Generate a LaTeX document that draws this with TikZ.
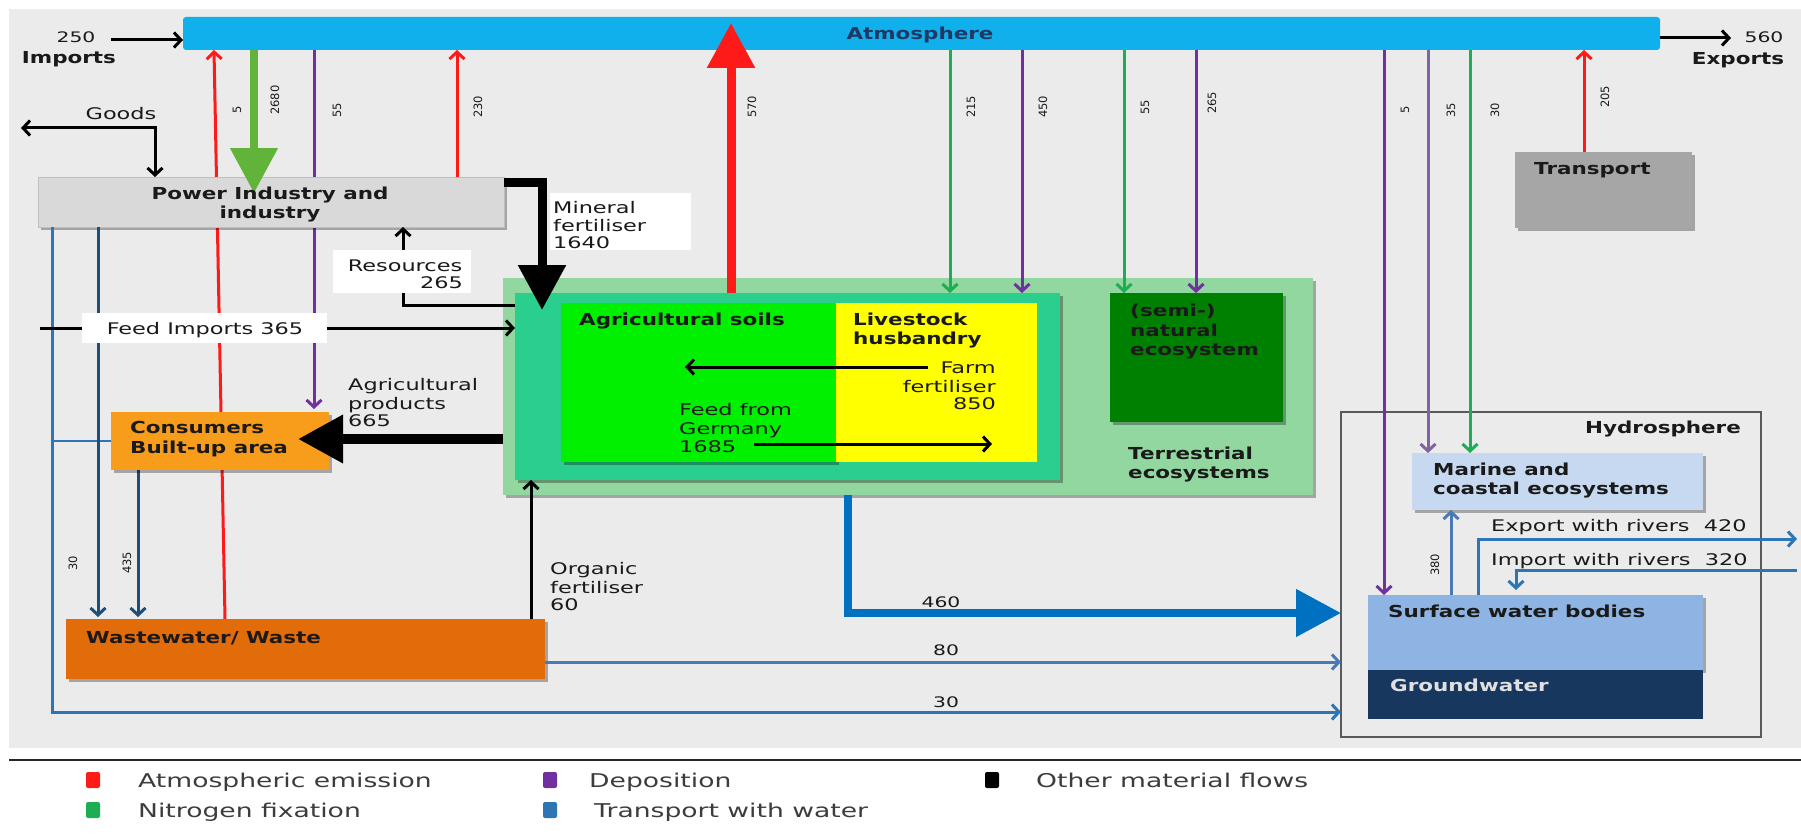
\documentclass[tikz,border=0pt]{standalone}
\usepackage{fontspec}
\setmainfont{DejaVu Sans}
\newfontfamily\bfnt[FakeStretch=1.3]{DejaVu Sans}
\newfontfamily\rfnt[FakeStretch=1.4]{DejaVu Sans}
\newfontfamily\nfnt{DejaVu Sans}
\usetikzlibrary{arrows.meta,shadows,calc}
\newcommand\fbold{\bfnt\bfseries\fontsize{16.5}{19}\selectfont}
\newcommand\freg{\rfnt\fontsize{16}{18}\selectfont}
\newcommand\fnum{\rfnt\fontsize{14.5}{17}\selectfont}
\newcommand\fleg{\rfnt\fontsize{19}{22}\selectfont}
\newcommand\frot{\nfnt\fontsize{11.5}{13}\selectfont}
\definecolor{bg}{HTML}{EBEBEB}
\definecolor{atm}{HTML}{0FB0EC}
\definecolor{atmtxt}{HTML}{1F3864}
\definecolor{emi}{HTML}{FF1A1A}
\definecolor{fixg}{HTML}{1DAE55}
\definecolor{fixbig}{HTML}{62B33A}
\definecolor{dep}{HTML}{7030A0}
\definecolor{deplt}{HTML}{8064A2}
\definecolor{wat}{HTML}{0070C0}
\definecolor{watm}{HTML}{2E75B6}
\definecolor{watd}{HTML}{1F4E79}
\definecolor{wats}{HTML}{4A7AB5}
\definecolor{powf}{HTML}{D9D9D9}
\definecolor{trf}{HTML}{A6A6A6}
\definecolor{conf}{HTML}{F89C1C}
\definecolor{wwf}{HTML}{E36C0A}
\definecolor{terf}{HTML}{92D6A0}
\definecolor{tealf}{HTML}{2ACF8E}
\definecolor{soilf}{HTML}{00F000}
\definecolor{livf}{HTML}{FFFF00}
\definecolor{natf}{HTML}{008000}
\definecolor{marf}{HTML}{C6D9F1}
\definecolor{surf}{HTML}{8DB4E2}
\definecolor{grdf}{HTML}{17375E}
\definecolor{txt}{HTML}{1A1A1A}
\begin{document}
\begin{tikzpicture}[x=1pt,y=-1pt,
  box/.style={anchor=north west, inner sep=0pt, outer sep=0pt},
  shd/.style={drop shadow={shadow xshift=2.5pt, shadow yshift=-2.5pt, opacity=0.3, fill=black}},
  thin/.style={line width=3pt, -{Straight Barb[length=7pt,width=15pt]}},
  big/.style={-{Triangle[length=45pt,width=46pt]}},
  bl/.style={font=\fbold, text=txt, inner sep=0pt},
  rl/.style={font=\freg, text=txt, inner sep=0pt},
  nl/.style={font=\fnum, text=txt, inner sep=0pt},
  ll/.style={font=\fleg, text=txt!85, inner sep=0pt, anchor=base west},
  rot/.style={font=\frot, text=txt, inner sep=0pt, rotate=90},
  lsq/.style={minimum width=14pt, minimum height=16pt, inner sep=0pt, rounded corners=2pt}]
\useasboundingbox (0,0) rectangle (1801,840);
\fill[white] (0,0) rectangle (1801,840);
\fill[bg] (9,9) rectangle (1801,748);
\draw[line width=2.5pt, black!85] (9,760) -- (1801,760);

% ---------- legend ----------
\node[lsq, fill=emi] (lg1) at (93,780) {};
\node[ll] (lt1) at (138,787) {Atmospheric emission};
\node[lsq, fill=fixg] (lg2) at (93,810) {};
\node[ll] (lt2) at (138,817) {Nitrogen fixation};
\node[lsq, fill=dep] (lg3) at (550,780) {};
\node[ll] (lt3) at (589,787) {Deposition};
\node[lsq, fill=watm] (lg4) at (550,810) {};
\node[ll] (lt4) at (594,817) {Transport with water};
\node[lsq, fill=black] (lg5) at (992,780) {};
\node[ll] (lt5) at (1036,787) {Other material flows};

% ---------- atmosphere, hydrosphere, transport ----------
\node[box, fill=atm, rounded corners=3pt, minimum width=1477pt, minimum height=33pt] (atm) at (183,17) {};
\node[box, shd, fill=trf, minimum width=177pt, minimum height=76pt] (tr) at (1515,152) {};
\node[box, draw=black!65, line width=1.5pt, minimum width=420pt, minimum height=325pt] (hyd) at (1341,412) {};
\coordinate (powNW) at (38,177);
\coordinate (powSE) at (504,227);

% ---------- lines behind boxes ----------
\draw[emi, thin] (225,619) -- (atm.south -| 214,0);
\draw[dep, thin] (atm.south -| 314,0) -- (314,409);

\node[box, shd, fill=powf, draw=black!25, minimum width=466pt, minimum height=50pt] (pow) at (powNW) {};

\draw[watm, line width=3pt, -{Straight Barb[length=7pt,width=15pt]}] (pow.south -| 52,0) -- (52,712) -- (hyd.west |- 0,712);
\draw[watm, line width=2.5pt] (52,441) -- (111,441);
\draw[watd, thin] (pow.south -| 98,0) -- (98,617);
\draw[watd, thin] (138,470) -- (138,617);
\draw[emi, thin] (pow.north -| 457,0) -- (atm.south -| 457,0);
\draw[emi, thin] (tr.north -| 1584,0) -- (atm.south -| 1584,0);

\node[box, shd, fill=conf, minimum width=218pt, minimum height=58pt] (con) at (111,412) {};
\node[box, shd, fill=wwf, minimum width=479pt, minimum height=60pt] (ww) at (66,619) {};

\node[box, shd, fill=terf, minimum width=810pt, minimum height=217pt] (ter) at (503,278) {};
\node[box, shd, fill=tealf, minimum width=545pt, minimum height=187pt] (teal) at (515,293) {};
\node[box, shd, fill=soilf, minimum width=275pt, minimum height=159pt] (soil) at (561,303) {};
\node[box, fill=livf, minimum width=201pt, minimum height=159pt] (liv) at (836,303) {};
\node[box, shd, fill=natf, minimum width=173pt, minimum height=129pt] (nat) at (1110,293) {};

\node[box, shd, fill=marf, minimum width=291pt, minimum height=57pt] (mar) at (1412,453) {};
\node[box, shd, fill=surf, minimum width=335pt, minimum height=75pt] (sur) at (1368,595) {};
\node[box, fill=grdf, minimum width=335pt, minimum height=49pt] (grd) at (1368,670) {};

% ---------- flows ----------
\coordinate (impS) at (111,40);
\draw[black, thin] (impS) -- (impS -| atm.west);
\coordinate (expE) at (1731,38);
\draw[black, thin] (expE -| atm.east) -- (expE);
\coordinate (goodsL) at (21,128);
\draw[black, line width=3pt, {Straight Barb[length=7pt,width=15pt]}-{Straight Barb[length=7pt,width=15pt]}] (goodsL) -- (155,128) -- (pow.north -| 155,0);
\draw[black, thin] (teal.west |- 0,305) -- (403,305) -- (pow.south -| 403,0);
\coordinate (feedS) at (40,328);
\draw[black, thin] (feedS) -- (feedS -| teal.west);
\node[box, fill=white, minimum width=138pt, minimum height=43pt] (resb) at (333,250) {};
\node[box, fill=white, minimum width=141pt, minimum height=57pt] (minb) at (550,193) {};
\node[box, fill=white, minimum width=245pt, minimum height=30pt] (feedb) at (82,313) {};

\draw[black, line width=9pt, big] (pow.east |- 0,182) -- (542,182) -- ($(teal.north -| 542,0)+(0,17)$);
\draw[black, line width=10pt, big] (ter.west |- 0,439) -- ($(con.east |- 0,439)+(-31,0)$);
\draw[black, thin] (ww.north -| 531,0) -- (teal.south -| 531,0);
\draw[fixbig, line width=8pt, big] (atm.south -| 254,0) -- ($(pow.north -| 254,0)+(0,16)$);
\draw[emi, line width=9pt, big] (teal.north -| 731,0) -- ($(atm.north -| 731,0)+(0,6)$);
\draw[fixg, thin] (atm.south -| 950,0) -- (teal.north -| 950,0);
\draw[dep, thin] (atm.south -| 1022,0) -- (teal.north -| 1022,0);
\draw[fixg, thin] (atm.south -| 1124,0) -- (nat.north -| 1124,0);
\draw[dep, thin] (atm.south -| 1196,0) -- (nat.north -| 1196,0);
\draw[dep, thin] (atm.south -| 1384,0) -- (sur.north -| 1384,0);
\draw[deplt, thin] (atm.south -| 1428,0) -- (mar.north -| 1428,0);
\draw[fixg, thin] (atm.south -| 1470,0) -- (mar.north -| 1470,0);
\coordinate (ffS) at (928,367); \coordinate (ffE) at (685,367);
\draw[black, thin] (ffS) -- (ffE);
\coordinate (fgS) at (754,444); \coordinate (fgE) at (992,444);
\draw[black, thin] (fgS) -- (fgE);
\draw[wat, line width=8pt, big] (ter.south -| 848,0) -- (848,613) -- (hyd.west |- 0,613);
\draw[wats, thin] (ww.east |- 0,662) -- (hyd.west |- 0,662);
\draw[wats, thin] (sur.north -| 1451,0) -- (mar.south -| 1451,0);
\coordinate (expR) at (1797,539);
\draw[watm, thin] (sur.north -| 1478,0) -- (1478,539) -- (expR);
\coordinate (impR) at (1797,570);
\draw[watm, thin] (impR) -- (1516,570) -- ($(sur.north -| 1516,0)+(0,-5)$);

% ---------- box texts ----------
\node[bl, text=atmtxt, anchor=base] (atmT) at (920,40) {Atmosphere};
\node[bl, anchor=base] (impT) at (69,64) {Imports};
\node[bl, anchor=base] (expT) at (1738,65) {Exports};
\node[bl, anchor=base] (powT1) at (270,199) {Power Industry and};
\node[bl, anchor=base] (powT2) at (270,218) {industry};
\node[bl, anchor=base west] (trT) at (1534,174) {Transport};
\node[bl, anchor=base west] (conT1) at (130,433) {Consumers};
\node[bl, anchor=base west] (conT2) at (130,453) {Built-up area};
\node[bl, anchor=base west] (wwT) at (86,643) {Wastewater/ Waste};
\node[bl, anchor=base west] (soilT) at (579,325) {Agricultural soils};
\node[bl, anchor=base west] (livT1) at (853,325) {Livestock};
\node[bl, anchor=base west] (livT2) at (853,344) {husbandry};
\node[bl, anchor=base west] (natT1) at (1130,316) {(semi-)};
\node[bl, anchor=base west] (natT2) at (1130,336) {natural};
\node[bl, anchor=base west] (natT3) at (1130,355) {ecosystem};
\node[bl, anchor=base west] (terT1) at (1128,459) {Terrestrial};
\node[bl, anchor=base west] (terT2) at (1128,478) {ecosystems};
\node[bl, anchor=base east] (hydT) at (1741,433) {Hydrosphere};
\node[bl, anchor=base west] (marT1) at (1433,475) {Marine and};
\node[bl, anchor=base west] (marT2) at (1433,494) {coastal ecosystems};
\node[bl, anchor=base west] (surT) at (1388,617) {Surface water bodies};
\node[bl, anchor=base west, text=black!12] (grdT) at (1390,691) {Groundwater};

% ---------- flow labels ----------
\node[rl, anchor=base] (goodsT) at (121,120) {Goods};
\node[rl, anchor=base west] (minT1) at (553,213) {Mineral};
\node[rl, anchor=base west] (minT2) at (553,231) {fertiliser};
\node[rl, anchor=base west] (minT3) at (553,248) {1640};
\node[rl, anchor=base] (resT1) at (405,271) {Resources};
\node[rl, anchor=base east] (resT2) at (463,288) {265};
\node[rl, anchor=base] (feedT) at (205,334) {Feed Imports 365};
\node[rl, anchor=base west] (agpT1) at (348,390) {Agricultural};
\node[rl, anchor=base west] (agpT2) at (348,409) {products};
\node[rl, anchor=base west] (agpT3) at (348,426) {665};
\node[rl, anchor=base east] (ffT1) at (996,373) {Farm};
\node[rl, anchor=base east] (ffT2) at (996,392) {fertiliser};
\node[rl, anchor=base east] (ffT3) at (996,409) {850};
\node[rl, anchor=base west] (fgT1) at (679,415) {Feed from};
\node[rl, anchor=base west] (fgT2) at (679,434) {Germany};
\node[rl, anchor=base west] (fgT3) at (679,452) {1685};
\node[rl, anchor=base west] (orgT1) at (550,574) {Organic};
\node[rl, anchor=base west] (orgT2) at (550,593) {fertiliser};
\node[rl, anchor=base west] (orgT3) at (550,610) {60};
\node[rl, anchor=base west] (expRT) at (1491,531) {Export with rivers\ \ 420};
\node[rl, anchor=base west] (impRT) at (1491,565) {Import with rivers\ \ 320};

\node[nl, anchor=base] (n250) at (76,43) {250};
\node[nl, anchor=base] (n560) at (1764,43) {560};
\node[nl, anchor=base] (n460) at (941,607) {460};
\node[nl, anchor=base] (n80) at (946,655) {80};
\node[nl, anchor=base] (n30b) at (946,707) {30};

\node[rot] (r5a) at (237,110) {5};
\node[rot] (r2680) at (275,100) {2680};
\node[rot] (r55a) at (337,110) {55};
\node[rot] (r230) at (478,107) {230};
\node[rot] (r570) at (752,107) {570};
\node[rot] (r215) at (971,107) {215};
\node[rot] (r450) at (1043,107) {450};
\node[rot] (r55b) at (1145,107) {55};
\node[rot] (r265) at (1212,103) {265};
\node[rot] (r5b) at (1405,110) {5};
\node[rot] (r35) at (1451,110) {35};
\node[rot] (r30a) at (1495,110) {30};
\node[rot] (r205) at (1605,97) {205};
\node[rot] (r30b) at (73,563) {30};
\node[rot] (r435) at (127,563) {435};
\node[rot] (r380) at (1435,565) {380};
\end{tikzpicture}
\end{document}
